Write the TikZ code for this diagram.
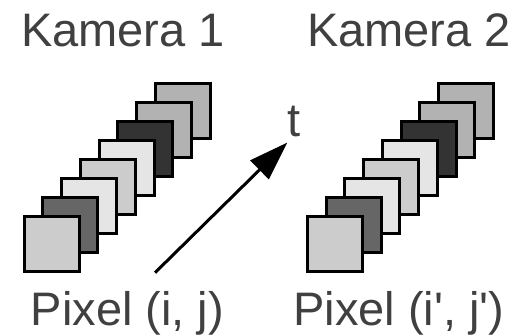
\documentclass[tikz,border=0pt]{standalone}
\usepackage{fontspec}
\setmainfont{Liberation Sans}
\usepackage{tikz}
\usetikzlibrary{arrows.meta}
\definecolor{labelgray}{HTML}{404040}
\tikzset{
  frame/.style={rectangle,draw=black,line width=3pt,minimum size=55pt,inner sep=0pt},
  caption/.style={font=\fontsize{47}{50}\selectfont,text=labelgray,anchor=base,inner sep=0pt},
  timearrow/.style={-{Triangle[length=39pt,width=26pt]},line width=3pt},
}

\begin{document}
\begin{tikzpicture}[x=1pt,y=-1pt]
  \useasboundingbox (0,0) rectangle (525,336);

  % frame stacks, back to front
  \foreach \amt [count=\k] in {30,30,80,10,20,10,60,20}{
    \node[frame,fill=black!\amt] (camA-\k) at ({51.7+(8-\k)*18.7},{244.2-(8-\k)*19}) {};
    \node[frame,fill=black!\amt] (camB-\k) at ({335+(8-\k)*18.7},{244.2-(8-\k)*19}) {};
  }

  \node[caption] (kamA) at (123,46.7) {Kamera 1};
  \node[caption] (kamB) at (409,46.7) {Kamera 2};
  \node[caption] (pixA) at (127.5,326) {Pixel (i, j)};
  \node[caption] (pixB) at (399,326) {Pixel (i\textquotesingle, j\textquotesingle)};
  \node[caption] (tlabel) at (294,137) {t};

  \coordinate (tstart) at (155,272.7);
  \draw[timearrow] (tstart) -- ([yshift=-5pt]tlabel.south west);
\end{tikzpicture}
\end{document}
